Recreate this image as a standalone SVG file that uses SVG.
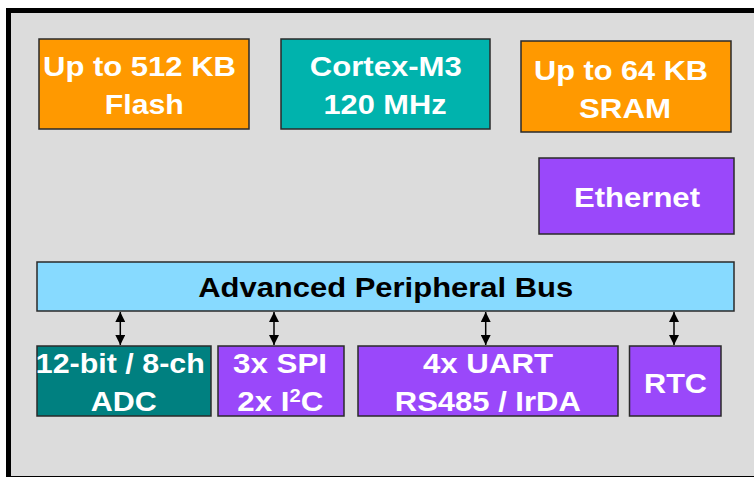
<svg xmlns="http://www.w3.org/2000/svg" width="754" height="477" viewBox="0 0 754 477">
<style>
.box{stroke:#2a2a2a;stroke-width:1.5}
.orange{fill:#FF9900}
.teal{fill:#00B3AD}
.dteal{fill:#008080}
.purple{fill:#9A48FA}
.bus{fill:#87DAFF}
.t{font-family:"Liberation Sans",Arial,sans-serif;font-weight:bold;font-size:28px;fill:#FFFFFF;text-anchor:middle}
.tb{fill:#000000}
.conn{stroke:#000;stroke-width:1.5;fill:none;marker-start:url(#ah);marker-end:url(#ah)}
</style>
<defs>
<marker id="ah" viewBox="0 0 10 10" refX="10" refY="5" markerWidth="10" markerHeight="10" markerUnits="userSpaceOnUse" orient="auto-start-reverse">
<path d="M0,0 L10,5 L0,10 z" fill="#000"/>
</marker>
</defs>
<rect x="0" y="0" width="754" height="477" fill="#FFFFFF"/>
<rect id="frame" x="8.5" y="10.5" width="760" height="468" fill="#DCDCDC" stroke="#000" stroke-width="5"/>

<g id="flash">
<rect class="box orange" x="39" y="39" width="210" height="90"/>
<text class="t" x="139.5" y="76" textLength="193" lengthAdjust="spacingAndGlyphs">Up to 512 KB</text>
<text class="t" x="144.3" y="114" textLength="79" lengthAdjust="spacingAndGlyphs">Flash</text>
</g>
<g id="cortex">
<rect class="box teal" x="281" y="39" width="209" height="90"/>
<text class="t" x="385.8" y="76" textLength="152" lengthAdjust="spacingAndGlyphs">Cortex-M3</text>
<text class="t" x="385" y="114" textLength="123" lengthAdjust="spacingAndGlyphs">120 MHz</text>
</g>
<g id="sram">
<rect class="box orange" x="521" y="41" width="210" height="91"/>
<text class="t" x="621" y="80" textLength="174" lengthAdjust="spacingAndGlyphs">Up to 64 KB</text>
<text class="t" x="625" y="117.7" textLength="92" lengthAdjust="spacingAndGlyphs">SRAM</text>
</g>
<g id="ethernet">
<rect class="box purple" x="539" y="158" width="195" height="76"/>
<text class="t" x="637" y="206.7" textLength="126" lengthAdjust="spacingAndGlyphs">Ethernet</text>
</g>
<g id="apb">
<rect class="box bus" x="37" y="262" width="697" height="49"/>
<text class="t tb" x="385.7" y="296.7" textLength="375" lengthAdjust="spacingAndGlyphs">Advanced Peripheral Bus</text>
</g>
<g id="adc">
<rect class="box dteal" x="37" y="346" width="174" height="70"/>
<text class="t" x="120.3" y="373.3" textLength="169" lengthAdjust="spacingAndGlyphs">12-bit / 8-ch</text>
<text class="t" x="123.8" y="410.7" textLength="66" lengthAdjust="spacingAndGlyphs">ADC</text>
</g>
<g id="spi">
<rect class="box purple" x="218" y="346" width="126" height="70"/>
<text class="t" x="280" y="373.3" textLength="94" lengthAdjust="spacingAndGlyphs">3x SPI</text>
<text class="t" x="280.3" y="410.7" textLength="86" lengthAdjust="spacingAndGlyphs">2x I<tspan font-size="18" dy="-9">2</tspan><tspan dy="9">C</tspan></text>
</g>
<g id="uart">
<rect class="box purple" x="358" y="346" width="260" height="70"/>
<text class="t" x="488" y="373.3" textLength="130" lengthAdjust="spacingAndGlyphs">4x UART</text>
<text class="t" x="487.8" y="410.7" textLength="186" lengthAdjust="spacingAndGlyphs">RS485 / IrDA</text>
</g>
<g id="rtc">
<rect class="box purple" x="629.5" y="346" width="91.5" height="70"/>
<text class="t" x="675.5" y="392.7" textLength="63" lengthAdjust="spacingAndGlyphs">RTC</text>
</g>

<g id="connectors">
<line class="conn" x1="120.3" y1="312" x2="120.3" y2="345"/>
<line class="conn" x1="274" y1="312" x2="274" y2="345"/>
<line class="conn" x1="485.7" y1="312" x2="485.7" y2="345"/>
<line class="conn" x1="674" y1="312" x2="674" y2="345"/>
</g>
</svg>
